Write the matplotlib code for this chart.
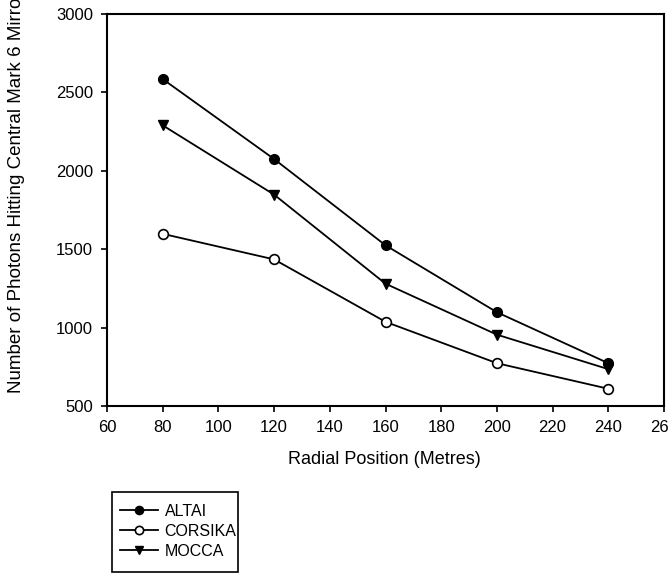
import matplotlib
matplotlib.use("Agg")
import matplotlib.pyplot as plt
from matplotlib.patches import Rectangle

plt.rcParams['font.family'] = ['Liberation Sans', 'DejaVu Sans']

radial = [80, 120, 160, 200, 240]
altai = [2585, 2075, 1525, 1098, 773]
corsika = [1598, 1435, 1037, 773, 610]
mocca = [2290, 1848, 1280, 955, 735]

x_ticks = [60, 80, 100, 120, 140, 160, 180, 200, 220, 240, 260]
y_ticks = [500, 1000, 1500, 2000, 2500, 3000]

W, H = 668, 573
fig = plt.figure(figsize=(W / 100, H / 100), dpi=100)
ax = fig.add_axes([107 / W, 1 - 406 / H, (664 - 107) / W, (406 - 14) / H])

ms = 7
lw = 1.3
l1, = ax.plot(radial, altai, color='black', lw=lw, marker='o', ms=ms,
              mfc='black', mec='black', label='ALTAI')
l2, = ax.plot(radial, corsika, color='black', lw=lw, marker='o', ms=ms,
              mfc='white', mec='black', mew=1.2, label='CORSIKA')
l3, = ax.plot(radial, mocca, color='black', lw=lw, marker='v', ms=ms,
              mfc='black', mec='black', label='MOCCA')

ax.set_xlim(60, 260)
ax.set_ylim(500, 3000)
ax.set_xticks(x_ticks)
ax.set_yticks(y_ticks)
ax.tick_params(direction='out', length=4, width=1.2, labelsize=12,
               colors='black', pad=6)
for s in ax.spines.values():
    s.set_linewidth(1.5)

fig.text(384 / W, 1 - 460 / H, 'Radial Position (Metres)', ha='center',
         va='center', fontsize=13)
fig.text(17 / W, 1 - 393 / H,
         'Number of Photons Hitting Central Mark 6 Mirror',
         rotation=90, ha='center', va='bottom', fontsize=13.5)

# legend box drawn as a separate frame in figure pixels
fig.patches.append(Rectangle((112 / W, 1 - 572 / H), (238 - 112) / W,
                             (572 - 492) / H, transform=fig.transFigure,
                             fill=False, lw=1.2, ec='black'))
fig.legend(handles=[l1, l2, l3], loc='upper left',
           bbox_to_anchor=(120 / W, 1 - 504 / H), frameon=False,
           fontsize=11.5, handlelength=2.4, handletextpad=0.4,
           labelspacing=0.3, borderpad=0, borderaxespad=0, markerscale=0.85)

fig.savefig('out.png', dpi=100)
